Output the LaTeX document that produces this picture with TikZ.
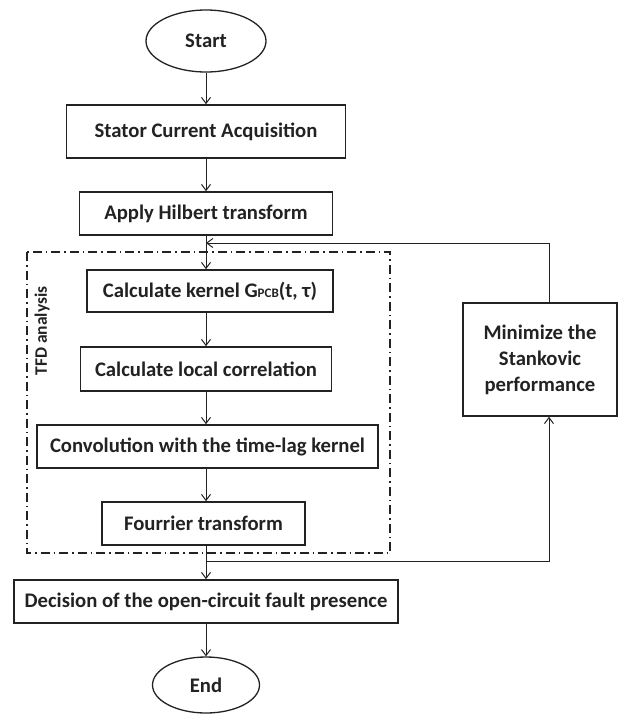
\documentclass[tikz,border=0pt]{standalone}
\usepackage{fontspec}
\setmainfont{Carlito}
\usetikzlibrary{arrows.meta,shapes.geometric}
\definecolor{ink}{HTML}{222222}
\tikzset{
  box/.style={draw=ink,line width=1.6pt,rectangle,inner sep=0pt,align=center,font=\fontsize{20.7}{26}\selectfont\bfseries,text=ink},
  oval/.style={draw=ink,line width=1.3pt,ellipse,inner sep=0pt,font=\fontsize{20.7}{26}\selectfont\bfseries,text=ink},
  arr/.style={draw=ink,line width=1pt,-{Straight Barb[length=6pt,width=9pt,line width=1pt]}},
  tfd/.style={draw=ink,line width=1.1pt,dash pattern=on 9pt off 4pt on 1.5pt off 4pt},
}
\begin{document}
\begin{tikzpicture}[x=1pt,y=-1pt]
\useasboundingbox (0,0) rectangle (621,715);
\node[oval,minimum width=120pt,minimum height=62pt] (start) at (206,41) {Start};
\node[box,minimum width=279pt,minimum height=53pt] (stator) at (206,131.5) {Stator Current Acquisition};
\node[box,minimum width=253pt,minimum height=43pt] (hilbert) at (206,213.5) {Apply Hilbert transform};
\node[box,minimum width=246pt,minimum height=42pt] (kernel) at (210,291) {Calculate kernel G{\fontsize{13}{13}\selectfont PCB}(t, τ)};
\node[box,minimum width=251pt,minimum height=44pt] (local) at (206,369) {Calculate local correlation};
\node[box,minimum width=341pt,minimum height=43pt] (conv) at (207.5,446.5) {Convolution with the time-lag kernel};
\node[box,minimum width=203pt,minimum height=43pt] (fourier) at (203.5,523.5) {Fourrier transform};
\node[box,minimum width=384pt,minimum height=43pt] (decision) at (206,601.5) {Decision of the open-circuit fault presence};
\node[oval,minimum width=107pt,minimum height=56pt] (end) at (206,685) {End};
\node[box,minimum width=154pt,minimum height=113pt] (minimize) at (540,359.5) {Minimize the\\Stankovic\\performance};
\draw[tfd] (27,252) rectangle (390,553);
\node[rotate=90,font=\fontsize{17.5}{17.5}\selectfont\bfseries,text=ink,inner sep=0pt] (tfdlabel) at (42,331) {TFD analysis};
\coordinate (col) at (206,0);
\coordinate (j1) at (206,561);
\coordinate (j2) at (549,561);
\coordinate (j3) at (549,243);
\coordinate (j4) at (206,243);
\draw[arr] (start.south) -- (stator.north);
\draw[arr] (stator.south) -- (hilbert.north);
\draw[arr] (hilbert.south) -- (hilbert.south |- kernel.north);
\draw[arr] (kernel.south -| col) -- (local.north -| col);
\draw[arr] (local.south -| col) -- (conv.north -| col);
\draw[arr] (conv.south -| col) -- (fourier.north -| col);
\draw[arr] (fourier.south -| col) -- (decision.north);
\draw[arr] (decision.south) -- (end.north);
\draw[arr] (j1) -- (j2) -- (minimize.south -| j2);
\draw[arr] (minimize.north -| j3) -- (j3) -- (j4);
\end{tikzpicture}
\end{document}
